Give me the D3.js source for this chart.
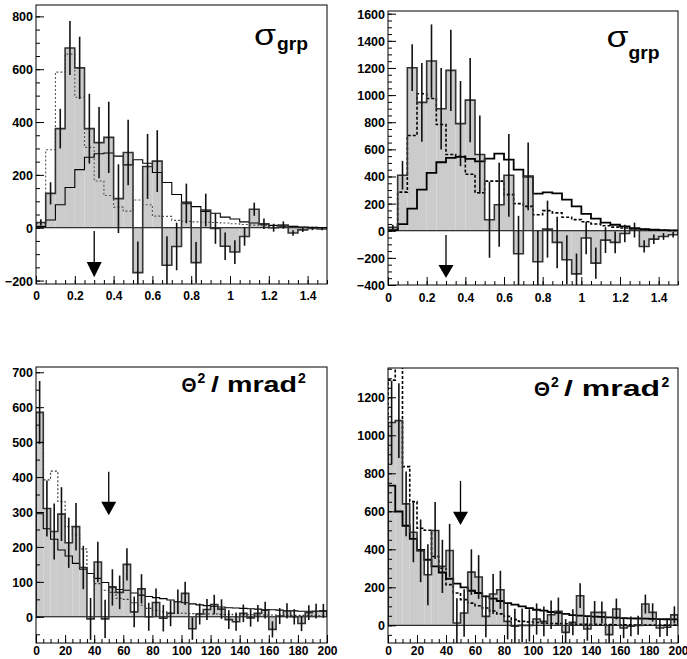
<!DOCTYPE html>
<html>
<head>
<meta charset="utf-8">
<script src="https://cdn.jsdelivr.net/npm/d3@7/dist/d3.min.js"></script>
<style>
  body { margin: 0; background: #fff; }
  svg { display: block; }
  text { font-family: "Liberation Sans", Arial, Helvetica, sans-serif; font-weight: bold; fill: #000; }
</style>
</head>
<body>
<div id="chart"></div>
<script>
// ---- values ----
// tick labels
const sigmaTicksX = [0, 0.2, 0.4, 0.6, 0.8, 1, 1.2, 1.4];
const thetaTicksX = [0, 20, 40, 60, 80, 100, 120, 140, 160, 180, 200];
const sigmaLTicksY = [-200, 0, 200, 400, 600, 800];
const sigmaRTicksY = [-400, -200, 0, 200, 400, 600, 800, 1000, 1200, 1400, 1600];
const thetaLTicksY = [0, 100, 200, 300, 400, 500, 600, 700];
const thetaRTicksY = [0, 200, 400, 600, 800, 1000, 1200];

// top left: sigma_grp, bins of 0.05 from 0 to 1.5
const sigmaLData = [20, 130, 375, 680, 605, 375, 322, 342, 110, 285, -170, 232, 252, -142, -71, 92, -132, 67, -3, -70, -92, -33, 70, 15, 0, 10, -20, -8, -3, -5];
const sigmaLErr  = [12, 42, 75, 102, 118, 132, 135, 135, 130, 124, 118, 123, 117, 110, 90, 75, 78, 62, 58, 52, 45, 35, 25, 20, 15, 14, 10, 8, 6, 5];
const sigmaLSim  = [5, 29, 87, 152, 220, 267, 280, 283, 271, 238, 257, 244, 209, 171, 126, 97, 80, 62, 55, 40, 33, 22, 18, 13, 9, 7, 5, 3, 2, 1];
const sigmaLAlt  = [15, 295, 589, 657, 494, 304, 177, 122, 78, 63, 105, 87, 44, 43, 28, 24, 22, 21, 20, 18, 15, 12, 10, 8, 6, 5, 4, 3, 2, 1];

// top right: sigma_grp
const sigmaRData = [25, 409, 1202, 946, 1251, 899, 1182, 790, 963, 562, 81, 192, 409, -170, 401, -229, 12, -86, -214, -318, -54, -239, -69, -86, -20, 5, -116, -62, -42, -30];
const sigmaRErr  = [20, 106, 172, 290, 270, 300, 300, 314, 310, 288, 280, 310, 305, 280, 250, 230, 210, 190, 180, 150, 120, 115, 95, 80, 65, 55, 45, 35, 25, 20];
const sigmaRSim  = [5, 49, 163, 303, 426, 505, 537, 544, 530, 512, 532, 569, 525, 451, 400, 273, 283, 275, 229, 180, 125, 90, 60, 44, 32, 20, 12, 8, 5, 3];
const sigmaRAlt  = [2, 285, 702, 1010, 975, 783, 562, 549, 416, 280, 366, 366, 266, 200, 180, 118, 148, 132, 100, 82, 66, 50, 37, 27, 20, 14, 10, 6, 4, 2];

// bottom left: theta^2, bins of 5 mrad^2 from 0 to 200
const thetaLData = [585, 310, 244, 294, 212, 258, 141, -6, 157, -6, 84, 70, 150, 14, 80, 0, 41, -4, 10, 43, 67, -34, 8, 21, 35, 22, -8, -14, 10, -3, 10, 19, -36, 2, 17, 0, -19, 12, 16, 17];
const thetaLErr  = [90, 80, 80, 77, 72, 68, 62, 60, 58, 55, 52, 48, 46, 44, 42, 40, 40, 38, 37, 35, 33, 32, 30, 30, 28, 28, 27, 26, 25, 25, 24, 24, 23, 23, 22, 22, 22, 21, 21, 20];
const thetaLSim  = [295, 252, 222, 191, 174, 153, 136, 124, 110, 98, 86, 78, 76, 68, 62, 58, 55, 52, 48, 44, 40, 37, 34, 32, 30, 28, 26, 25, 24, 23, 22, 21, 20, 19, 18, 17, 16, 16, 15, 15];
const thetaLAlt  = [500, 392, 417, 330, 258, 234, 194, 124, 95, 76, 70, 53, 50, 40, 33, 24, 18, 14, 12, 11, 10, 9, 9, 8, 8, 7, 7, 6, 6, 6, 5, 5, 5, 5, 4, 4, 4, 4, 3, 3];

// bottom right: theta^2
const thetaRData = [1067, 1077, 639, 490, 392, 266, 499, 310, 394, 12, 65, 280, 254, 47, 165, 187, 21, -5, 0, 0, 33, 21, 56, 74, -37, 16, 156, -19, 68, 68, -49, 86, -14, -5, 0, 112, 68, -14, -10, 55];
const thetaRErr  = [220, 197, 170, 158, 165, 160, 150, 140, 140, 130, 125, 120, 115, 110, 105, 100, 95, 92, 88, 85, 82, 78, 75, 72, 70, 68, 65, 62, 60, 58, 56, 55, 54, 52, 50, 50, 48, 47, 46, 45];
const thetaRSim  = [735, 599, 524, 455, 397, 345, 310, 278, 245, 219, 200, 182, 170, 152, 140, 128, 117, 109, 100, 91, 82, 77, 70, 65, 60, 54, 51, 48, 46, 44, 42, 40, 38, 37, 36, 35, 34, 33, 32, 31];
const thetaRAlt  = [1290, 1420, 835, 651, 511, 500, 362, 300, 214, 170, 135, 117, 103, 91, 75, 60, 47, 30, 21, 18, 15, 12, 10, 9, 8, 7, 6, 5, 5, 4, 4, 3, 3, 3, 2, 2, 2, 2, 1, 1];

// cut arrows: [x, line top, head top, tip] in data units
const sigmaLArrow = [0.3, -12, -130, -187];
const sigmaRArrow = [0.3, -31, -252, -348];
const thetaLArrow = [50, 415, 329, 291];
const thetaRArrow = [50, 760, 598, 528];

const width = 687, height = 659;

const svg = d3.select("#chart").append("svg")
  .attr("width", width)
  .attr("height", height);

const panels = [
  { id: "p1", left: 36, right: 327, top: 5, bottom: 284, xDomain: [0, 1.5], yDomain: [-213, 843], bin: 0.05,
    data: sigmaLData, err: sigmaLErr, sim: sigmaLSim, alt: sigmaLAlt, arrow: sigmaLArrow,
    ticksX: sigmaTicksX, ticksY: sigmaLTicksY, minorX: 0.05, minorY: 50, labelPad: 7,
    simWidth: 1.1, altStyle: { color: "#555", width: 1.1, dash: "2,2" } },
  { id: "p2", left: 388, right: 678, top: 11, bottom: 285, xDomain: [0, 1.5], yDomain: [-400, 1620], bin: 0.05,
    data: sigmaRData, err: sigmaRErr, sim: sigmaRSim, alt: sigmaRAlt, arrow: sigmaRArrow,
    ticksX: sigmaTicksX, ticksY: sigmaRTicksY, minorX: 0.05, minorY: 50, labelPad: 8,
    simWidth: 1.8, altStyle: { color: "#000", width: 1.6, dash: "3,2" } },
  { id: "p3", left: 36, right: 327, top: 367, bottom: 643, xDomain: [0, 200], yDomain: [-75, 715], bin: 5,
    data: thetaLData, err: thetaLErr, sim: thetaLSim, alt: thetaLAlt, arrow: thetaLArrow,
    ticksX: thetaTicksX, ticksY: thetaLTicksY, minorX: 5, minorY: 50, labelPad: 3,
    simWidth: 1.1, altStyle: { color: "#333", width: 1.1, dash: "2,2" } },
  { id: "p4", left: 388, right: 678, top: 368, bottom: 643, xDomain: [0, 200], yDomain: [-93, 1354], bin: 5,
    data: thetaRData, err: thetaRErr, sim: thetaRSim, alt: thetaRAlt, arrow: thetaRArrow,
    ticksX: thetaTicksX, ticksY: thetaRTicksY, minorX: 5, minorY: 50, labelPad: 3,
    simWidth: 1.8, altStyle: { color: "#000", width: 1.6, dash: "3,2" } }
];

panels.forEach(drawPanel);

function drawPanel(p) {
  const x = d3.scaleLinear().domain(p.xDomain).range([p.left, p.right]);
  const y = d3.scaleLinear().domain(p.yDomain).range([p.bottom, p.top]);
  const edges = d3.range(p.data.length + 1).map(i => p.xDomain[0] + i * p.bin);

  svg.append("clipPath").attr("id", "clip-" + p.id)
    .append("rect")
    .attr("x", p.left).attr("y", p.top)
    .attr("width", p.right - p.left).attr("height", p.bottom - p.top);

  const g = svg.append("g").attr("clip-path", `url(#clip-${p.id})`);

  // step outline of a histogram, drawn from zero
  const step = vals => {
    let s = `M${x(edges[0])},${y(0)}`;
    vals.forEach((v, i) => { s += `V${y(v)}H${x(edges[i + 1])}`; });
    return s + `V${y(0)}`;
  };

  // shaded excess
  g.selectAll("rect.bar")
    .data(p.data)
    .join("rect")
    .attr("class", "bar")
    .attr("x", (d, i) => x(edges[i]))
    .attr("width", (d, i) => x(edges[i + 1]) - x(edges[i]))
    .attr("y", d => Math.min(y(d), y(0)))
    .attr("height", d => Math.abs(y(d) - y(0)))
    .attr("fill", "#cbcbcb");

  // zero line
  g.append("line")
    .attr("x1", p.left).attr("x2", p.right)
    .attr("y1", y(0)).attr("y2", y(0))
    .attr("stroke", "#000").attr("stroke-width", 1);

  // dotted / dashed histogram
  g.append("path")
    .attr("d", step(p.alt))
    .attr("fill", "none")
    .attr("stroke", p.altStyle.color)
    .attr("stroke-width", p.altStyle.width)
    .attr("stroke-dasharray", p.altStyle.dash);

  // solid histogram
  g.append("path")
    .attr("d", step(p.sim))
    .attr("fill", "none")
    .attr("stroke", "#000")
    .attr("stroke-width", p.simWidth);

  // outline of shaded histogram
  g.append("path")
    .attr("d", step(p.data))
    .attr("fill", "none")
    .attr("stroke", "#333")
    .attr("stroke-width", 1.6);

  // error bars
  g.selectAll("line.err")
    .data(p.data)
    .join("line")
    .attr("class", "err")
    .attr("x1", (d, i) => x(edges[i] + p.bin / 2))
    .attr("x2", (d, i) => x(edges[i] + p.bin / 2))
    .attr("y1", (d, i) => y(d - p.err[i]))
    .attr("y2", (d, i) => y(d + p.err[i]))
    .attr("stroke", "#111")
    .attr("stroke-width", 1.6);

  // arrow
  const [ax, aTop, aHead, aTip] = p.arrow;
  svg.append("line")
    .attr("x1", x(ax)).attr("x2", x(ax))
    .attr("y1", y(aTop)).attr("y2", y(aHead) + 1)
    .attr("stroke", "#000").attr("stroke-width", 1.3);
  svg.append("path")
    .attr("d", `M${x(ax) - 7.5},${y(aHead)}L${x(ax) + 7.5},${y(aHead)}L${x(ax)},${y(aTip)}Z`)
    .attr("fill", "#000");

  // axes: ticks point into the frame
  const yAxis = svg.append("g")
    .attr("transform", `translate(${p.left},0)`)
    .call(d3.axisLeft(y).tickValues(p.ticksY).tickSize(-8).tickPadding(3).tickFormat(d3.format("d")))
    .call(a => a.select(".domain").remove());
  yAxis.selectAll("text").style("font-size", "12.5px").attr("dy", "0.36em");
  yAxis.selectAll("line").attr("stroke", "#000");

  const yMinor = d3.range(Math.ceil(p.yDomain[0] / p.minorY) * p.minorY, p.yDomain[1], p.minorY);
  svg.append("g")
    .attr("transform", `translate(${p.left},0)`)
    .call(d3.axisLeft(y).tickValues(yMinor).tickSize(-4).tickFormat(""))
    .call(a => a.select(".domain").remove())
    .selectAll("line").attr("stroke", "#000");

  const xAxis = svg.append("g")
    .attr("transform", `translate(0,${p.bottom})`)
    .call(d3.axisBottom(x).tickValues(p.ticksX).tickSize(-8).tickPadding(p.labelPad).tickFormat(d3.format("~g")))
    .call(a => a.select(".domain").remove());
  xAxis.selectAll("text").style("font-size", "12px");
  xAxis.selectAll("line").attr("stroke", "#000");

  const xMinor = d3.range(p.xDomain[0], p.xDomain[1] + p.minorX / 2, p.minorX);
  svg.append("g")
    .attr("transform", `translate(0,${p.bottom})`)
    .call(d3.axisBottom(x).tickValues(xMinor).tickSize(-4).tickFormat(""))
    .call(a => a.select(".domain").remove())
    .selectAll("line").attr("stroke", "#000");

  // frame
  svg.append("rect")
    .attr("x", p.left).attr("y", p.top)
    .attr("width", p.right - p.left).attr("height", p.bottom - p.top)
    .attr("fill", "none").attr("stroke", "#000").attr("stroke-width", 1);
}

// panel titles
function sigmaTitle(sx, sBase, gx, gBase) {
  svg.append("text").attr("x", sx).attr("y", sBase)
    .style("font-size", "30px").style("font-weight", "normal")
    .attr("textLength", 22).attr("lengthAdjust", "spacingAndGlyphs")
    .text("σ");
  svg.append("text").attr("x", gx).attr("y", gBase)
    .style("font-size", "19px")
    .attr("textLength", 31).attr("lengthAdjust", "spacingAndGlyphs")
    .text("grp");
}
sigmaTitle(254, 45, 277, 50);
sigmaTitle(606.5, 46.5, 628.5, 58.5);

function thetaTitle(x0, base, thetaW, slashX, slashW, supX1, supX2) {
  svg.append("text").attr("x", x0).attr("y", base)
    .style("font-size", "21px")
    .attr("textLength", thetaW).attr("lengthAdjust", "spacingAndGlyphs")
    .text("Θ");
  svg.append("text").attr("x", supX1).attr("y", base - 9)
    .style("font-size", "14px").text("2");
  svg.append("text").attr("x", slashX).attr("y", base)
    .style("font-size", "22px")
    .attr("textLength", slashW).attr("lengthAdjust", "spacingAndGlyphs")
    .text("/ mrad");
  svg.append("text").attr("x", supX2).attr("y", base - 9)
    .style("font-size", "14px").text("2");
}
thetaTitle(181.5, 392, 15, 211, 86, 197.5, 298);
thetaTitle(534, 396, 16, 564, 96, 551, 661.5);
</script>
</body>
</html>
